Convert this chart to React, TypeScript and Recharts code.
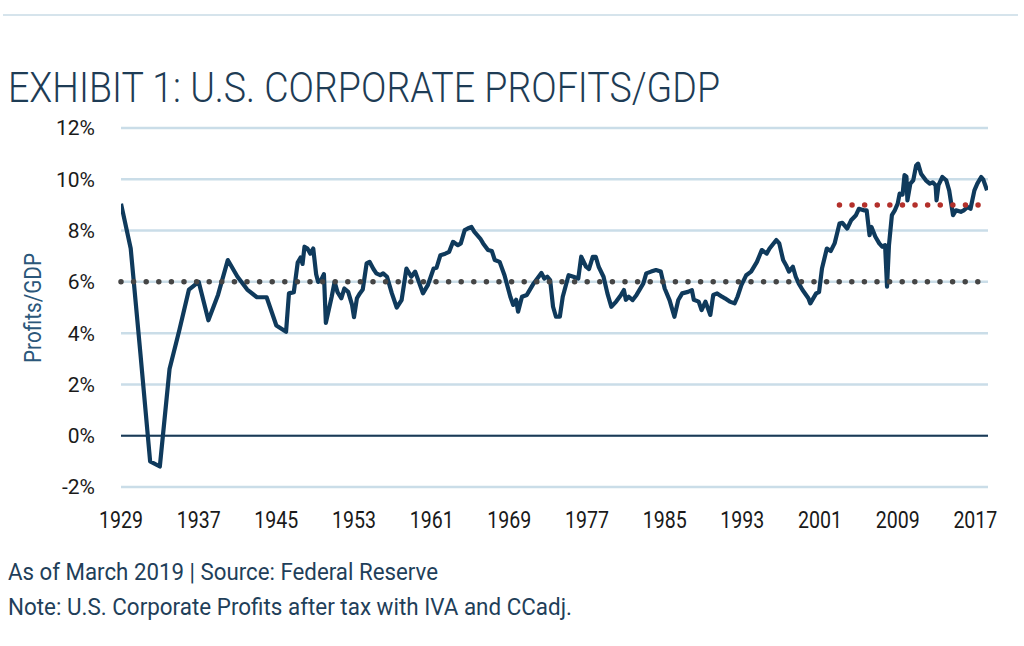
import React from "react";
import { LineChart, Line, XAxis, YAxis, CartesianGrid, ReferenceLine } from "recharts";

const years = [
  1929, 1930, 1931, 1932, 1933, 1934, 1935, 1936, 1937, 1938, 1939, 1940, 1941, 1942, 1943, 1944, 1945, 1946,
  1946.3, 1946.8, 1947.2, 1947.5, 1947.7, 1947.9, 1948.2, 1948.5, 1948.8, 1949.1, 1949.3, 1949.6, 1949.9,
  1950.1, 1950.7, 1951.0, 1951.3, 1951.7, 1952.0, 1952.4, 1952.8, 1953.0, 1953.3, 1953.6, 1953.9,
  1954.3, 1954.6, 1955.0, 1955.3, 1955.7, 1956.0, 1956.4, 1956.9, 1957.4, 1957.9, 1958.4, 1958.9,
  1959.3, 1960.1, 1960.6, 1961.2, 1961.5, 1961.9, 1962.4, 1962.8, 1963.2, 1963.7, 1964.0, 1964.4,
  1964.7, 1965.1, 1965.4, 1966.0, 1966.3, 1966.8, 1967.2, 1967.5, 1968.0, 1968.5, 1969.1, 1969.4,
  1969.7, 1969.9, 1970.3, 1970.8, 1971.5, 1972.3, 1972.6, 1972.9, 1973.2, 1973.5, 1973.8, 1974.2,
  1974.5, 1975.1, 1975.6, 1976.1, 1976.4, 1976.9, 1977.2, 1977.6, 1977.9, 1978.2, 1978.7, 1979.1,
  1979.5, 1980.0, 1980.5, 1980.8, 1981.0, 1981.3, 1981.7, 1982.1, 1982.8, 1983.1, 1983.6, 1984.1,
  1984.6, 1985.0, 1985.5, 1986.0, 1986.4, 1986.8, 1987.4, 1987.8, 1988.0, 1988.5, 1988.8, 1989.2,
  1989.7, 1990.0, 1990.4, 1990.9, 1991.2, 1991.7, 1992.2, 1992.5, 1992.9, 1993.4, 1993.9, 1994.5,
  1995.0, 1995.5, 1995.8, 1996.5, 1996.8, 1997.2, 1997.5, 1997.8, 1998.2, 1998.5, 1998.8, 1999.2,
  1999.8, 2000.0, 2000.6, 2000.9, 2001.2, 2001.7, 2002.1, 2002.5, 2003.0, 2003.3, 2003.8, 2004.2,
  2004.7, 2005.0, 2005.5, 2005.8, 2006.1, 2006.3, 2006.7, 2007.1, 2007.4, 2007.7, 2007.9, 2008.1,
  2008.4, 2008.7, 2009.0, 2009.2, 2009.5, 2009.7, 2009.9, 2010.0, 2010.3, 2010.6, 2010.9, 2011.1,
  2011.4, 2011.9, 2012.3, 2012.6, 2012.9, 2013.0, 2013.2, 2013.6, 2014.0, 2014.3, 2014.7, 2015.0,
  2015.5, 2015.8, 2016.2, 2016.5, 2016.9, 2017.2, 2017.6, 2017.8, 2018.2,
];

const profitsToGdp = [
  9.05, 7.3, 3.2, -1.0, -1.2, 2.6, 4.1, 5.7, 6.0, 4.5, 5.5, 6.85, 6.2, 5.7, 5.4, 5.4, 4.3, 4.05,
  5.55, 5.6, 6.75, 6.95, 6.7, 7.37, 7.3, 7.1, 7.3, 6.3, 6.0, 6.07, 6.3,
  4.4, 5.42, 6.0, 5.6, 5.36, 5.74, 5.61, 5.1, 4.62, 5.36, 5.55, 5.7,
  6.72, 6.78, 6.5, 6.33, 6.26, 6.33, 6.2, 5.55, 5.0, 5.29, 6.52, 6.2,
  6.4, 5.55, 5.87, 6.52, 6.55, 7.04, 7.1, 7.17, 7.56, 7.43, 7.5, 8.02,
  8.08, 8.14, 7.95, 7.69, 7.5, 7.24, 7.2, 6.85, 6.78, 6.26, 5.42, 5.1,
  5.3, 4.84, 5.42, 5.49, 5.94, 6.35, 6.13, 6.2, 6.07, 5.03, 4.64, 4.64,
  5.42, 6.26, 6.2, 6.13, 6.98, 6.59, 6.5, 6.98, 6.98, 6.59, 6.2, 5.55,
  5.03, 5.23, 5.49, 5.68, 5.3, 5.42, 5.29, 5.49, 5.94, 6.33, 6.4, 6.46,
  6.4, 5.74, 5.29, 4.64, 5.29, 5.55, 5.61, 5.68, 5.3, 5.23, 4.9, 5.23,
  4.71, 5.49, 5.55, 5.42, 5.36, 5.23, 5.16, 5.42, 5.87, 6.26, 6.4, 6.78,
  7.24, 7.1, 7.3, 7.63, 7.5, 6.85, 6.65, 6.4, 6.59, 6.2, 5.94, 5.68,
  5.36, 5.16, 5.55, 5.6, 6.52, 7.3, 7.2, 7.5, 8.27, 8.3, 8.08, 8.4,
  8.6, 8.85, 8.79, 8.79, 7.82, 8.14, 7.76, 7.5, 7.37, 7.43, 5.81, 7.43,
  8.6, 8.79, 9.05, 9.44, 9.4, 10.16, 10.1, 9.18, 9.83, 9.96, 10.54, 10.61,
  10.22, 9.96, 9.83, 9.88, 9.77, 9.18, 9.77, 10.09, 9.96, 9.57, 8.6, 8.79,
  8.73, 8.79, 8.92, 8.85, 9.57, 9.83, 10.09, 10.0, 9.57,
];

const xTicks = [1929, 1937, 1945, 1953, 1961, 1969, 1977, 1985, 1993, 2001, 2009, 2017];
const yTicks = [-2, 0, 2, 4, 6, 8, 10, 12];
const xDomain = [1929, 2018.3];
const yDomain = [-2, 12];
const longRunAverage = 6;
const recentAverage = 9;
const recentAverageStart = 2003;

const title = "EXHIBIT 1: U.S. CORPORATE PROFITS/GDP";
const yAxisTitle = "Profits/GDP";
const sourceNote = "As of March 2019 | Source: Federal Reserve";
const footNote = "Note: U.S. Corporate Profits after tax with IVA and CCadj.";

const data = years.map((year, i) => ({ year, value: profitsToGdp[i] }));

function XTick(props: any) {
  const { x, y, payload } = props;
  return (
    <text
      x={x}
      y={y}
      dy={17}
      textAnchor="middle"
      fontFamily="Roboto"
      fontSize={23}
      fill="#1a1a1a"
      textLength={44}
      lengthAdjust="spacingAndGlyphs"
    >
      {String(payload.value)}
    </text>
  );
}

export default function App() {
  return (
    <div style={{ position: "absolute", left: 0, top: 0, width: 1024, height: 646, background: "#fff", overflow: "hidden" }}>
      <div style={{ position: "absolute", left: 0, top: 0 }}>
        <LineChart width={1024} height={646} data={data} margin={{ top: 128, right: 36, bottom: 129, left: 61 }}>
          <CartesianGrid vertical={false} stroke="#cadde8" strokeWidth={2.5} />
          <XAxis
            dataKey="year"
            type="number"
            domain={xDomain}
            ticks={xTicks}
            allowDataOverflow
            axisLine={false}
            tickLine={false}
            tickSize={0}
            tickMargin={24}
            height={30}
            interval={0}
            tick={<XTick />}
          />
          <YAxis
            type="number"
            domain={yDomain}
            ticks={yTicks}
            allowDataOverflow
            axisLine={false}
            tickLine={false}
            tickSize={0}
            tickMargin={26}
            width={60}
            interval={0}
            tickFormatter={(v) => `${v}%`}
            tick={{ fill: "#1a1a1a", fontSize: 21, fontFamily: "Roboto" }}
          />
          <ReferenceLine y={0} stroke="#1b3a56" strokeWidth={2} />
          <Line
            type="linear"
            dataKey="value"
            stroke="#0f3a5c"
            strokeWidth={4.2}
            dot={false}
            isAnimationActive={false}
            strokeLinejoin="round"
          />
          <ReferenceLine
            y={longRunAverage}
            stroke="#454545"
            strokeWidth={5.5}
            strokeDasharray="0 12.6"
            strokeLinecap="round"
          />
          <ReferenceLine
            segment={[{ x: recentAverageStart, y: recentAverage }, { x: xDomain[1], y: recentAverage }]}
            stroke="#b3302b"
            strokeWidth={5.5}
            strokeDasharray="0 12.6"
            strokeLinecap="round"
          />
        </LineChart>
      </div>
      <svg width={1024} height={646} style={{ position: "absolute", left: 0, top: 0, pointerEvents: "none" }}>
        <line x1={3} y1={15} x2={1018} y2={15} stroke="#d6e4ec" strokeWidth={2} />
        <text x={8} y={102} fontFamily="Roboto" fontWeight={300} fontSize={42} fill="#1e3c55" textLength={712} lengthAdjust="spacingAndGlyphs">
          {title}
        </text>
        <text
          x={0}
          y={0}
          transform="translate(41,308) rotate(-90)"
          textAnchor="middle"
          fontFamily="Roboto"
          fontSize={23}
          fill="#2b577a"
          textLength={110}
          lengthAdjust="spacingAndGlyphs"
        >
          {yAxisTitle}
        </text>
        <text x={8} y={580} fontFamily="Roboto" fontSize={23} fill="#1f3f5a" textLength={430} lengthAdjust="spacingAndGlyphs">
          {sourceNote}
        </text>
        <text x={8} y={615} fontFamily="Roboto" fontSize={23} fill="#1f3f5a" textLength={564} lengthAdjust="spacingAndGlyphs">
          {footNote}
        </text>
      </svg>
    </div>
  );
}
